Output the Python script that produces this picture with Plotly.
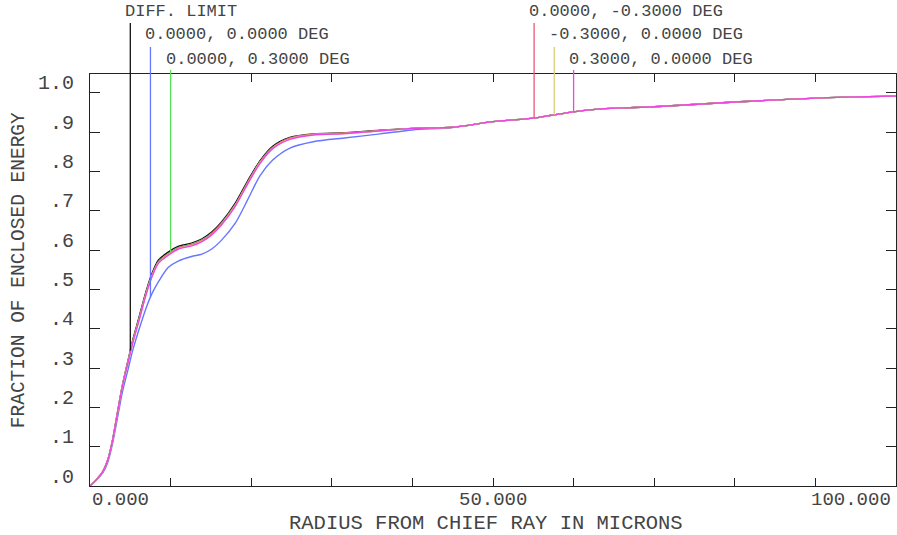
import numpy as np
import plotly.graph_objects as go

# ---- data ----
radius = [0, 0.75, 1.6, 2.2, 2.8, 3.4, 4.0, 4.7, 5.3, 6.0, 7.0, 7.7, 8.5, 9.7, 11.0,
          12.6, 13.9, 15.1, 16.3, 18.0, 19.6, 21.1, 22.7, 24.8, 27.7, 31.8, 36, 40, 45,
          50, 55, 57.5, 60, 63, 66, 70, 80, 90, 100]

diff_limit = [0, 0.015, 0.037, 0.066, 0.117, 0.186, 0.254, 0.318, 0.371, 0.423, 0.498,
              0.541, 0.575, 0.595, 0.610, 0.618, 0.629, 0.646, 0.671, 0.719, 0.778, 0.828,
              0.865, 0.887, 0.896, 0.899, 0.905, 0.910, 0.913, 0.927, 0.936, 0.944, 0.952,
              0.959, 0.962, 0.965, 0.977, 0.987, 0.992]
f_00_00 = [0, 0.014, 0.034, 0.060, 0.108, 0.172, 0.237, 0.295, 0.345, 0.393, 0.455,
           0.490, 0.520, 0.556, 0.573, 0.584, 0.590, 0.603, 0.625, 0.668, 0.730, 0.790,
           0.830, 0.860, 0.876, 0.886, 0.896, 0.906, 0.912, 0.927, 0.936, 0.944, 0.952,
           0.959, 0.962, 0.965, 0.977, 0.987, 0.992]
f_00_03 = [0, 0.015, 0.037, 0.066, 0.117, 0.185, 0.253, 0.315, 0.367, 0.419, 0.494,
           0.537, 0.571, 0.591, 0.607, 0.615, 0.626, 0.643, 0.668, 0.715, 0.774, 0.825,
           0.862, 0.885, 0.895, 0.898, 0.904, 0.910, 0.913, 0.927, 0.936, 0.944, 0.952,
           0.959, 0.962, 0.965, 0.977, 0.987, 0.992]
f_00_m03 = [0, 0.015, 0.037, 0.066, 0.117, 0.185, 0.253, 0.315, 0.366, 0.418, 0.493,
            0.536, 0.570, 0.590, 0.606, 0.614, 0.625, 0.642, 0.667, 0.714, 0.773, 0.824,
            0.862, 0.885, 0.895, 0.898, 0.904, 0.910, 0.913, 0.927, 0.936, 0.944, 0.952,
            0.959, 0.962, 0.965, 0.977, 0.987, 0.992]
f_m03_00 = [0, 0.015, 0.037, 0.066, 0.117, 0.185, 0.252, 0.314, 0.365, 0.416, 0.491,
            0.534, 0.568, 0.588, 0.604, 0.612, 0.623, 0.640, 0.665, 0.712, 0.771, 0.822,
            0.860, 0.883, 0.894, 0.897, 0.904, 0.910, 0.913, 0.927, 0.936, 0.944, 0.952,
            0.959, 0.962, 0.965, 0.977, 0.987, 0.992]
f_03_00 = [0, 0.015, 0.037, 0.066, 0.117, 0.185, 0.252, 0.313, 0.364, 0.415, 0.490,
           0.533, 0.567, 0.587, 0.603, 0.611, 0.622, 0.639, 0.664, 0.711, 0.770, 0.821,
           0.859, 0.882, 0.893, 0.897, 0.904, 0.910, 0.913, 0.927, 0.936, 0.944, 0.952,
           0.959, 0.962, 0.965, 0.977, 0.987, 0.992]

labels = ["DIFF. LIMIT", "0.0000, 0.0000 DEG", "0.0000, 0.3000 DEG",
          "0.0000, -0.3000 DEG", "-0.3000, 0.0000 DEG", "0.3000, 0.0000 DEG"]
series = [diff_limit, f_00_00, f_00_03, f_00_m03, f_m03_00, f_03_00]
colors = ["#111111", "#6677ff", "#55e055", "#ee5577", "#d8d27a", "#ee44e6"]
marker_r = [5.0, 7.5, 10.0, 55.1, 57.6, 60.0]     # radius where each label line drops
label_row = [0, 1, 2, 0, 1, 2]

y_ticks = [0.0, 0.1, 0.2, 0.3, 0.4, 0.5, 0.6, 0.7, 0.8, 0.9, 1.0]
y_tick_text = [".0", ".1", ".2", ".3", ".4", ".5", ".6", ".7", ".8", ".9", "1.0"]
x_ticks = [0, 50, 100]
x_tick_text = ["0.000", "50.000", "100.000"]

YMAX = 1.0483
FONT = "Liberation Mono"
TXT = "#444444"

fig = go.Figure()
for s, c, name in zip(series, colors, labels):
    fig.add_trace(go.Scatter(x=radius, y=s, mode="lines", name=name,
                             line=dict(color=c, width=1.4, shape="spline", smoothing=0.8),
                             showlegend=False, hoverinfo="skip"))

row_top = [1.1238, 1.0655, 1.0097]       # paper y for top of label lines
row_text = [1.1505, 1.0947, 1.0364]      # paper y for label text

shapes = []
annotations = []
for r, s, c, lab, row in zip(marker_r, series, colors, labels, label_row):
    yb = float(np.interp(r, radius, s)) / YMAX
    shapes.append(dict(type="line", xref="x", yref="paper", x0=r, x1=r,
                       y0=yb, y1=row_top[row], line=dict(color=c, width=1.3)))
    annotations.append(dict(xref="x", yref="paper", x=r, y=row_text[row], text=lab,
                            xanchor="left", yanchor="middle", xshift=-7, showarrow=False,
                            font=dict(family=FONT, size=17, color=TXT)))

for v, t in zip(y_ticks, y_tick_text):
    annotations.append(dict(xref="paper", yref="y", x=-0.0175, y=v, text=t,
                            xanchor="right", yanchor="middle", yshift=9, showarrow=False,
                            font=dict(family=FONT, size=20, color=TXT)))

for v, t, a in zip(x_ticks, x_tick_text, ["left", "center", "right"]):
    annotations.append(dict(xref="x", yref="paper", x=v, y=-0.034, text=t,
                            xanchor=a, yanchor="middle", showarrow=False,
                            xshift=(0 if a == "left" else (-3 if a == "right" else 0)),
                            font=dict(family=FONT, size=19, color=TXT)))

annotations.append(dict(xref="paper", yref="paper", x=0.491, y=-0.09,
                        text="RADIUS FROM CHIEF RAY IN MICRONS", xanchor="center",
                        yanchor="middle", showarrow=False,
                        font=dict(family=FONT, size=20.5, color=TXT)))
annotations.append(dict(xref="paper", yref="paper", x=-0.088, y=0.524,
                        text="FRACTION OF ENCLOSED ENERGY", textangle=-90,
                        xanchor="center", yanchor="middle", showarrow=False,
                        font=dict(family=FONT, size=19.5, color=TXT)))

fig.update_layout(
    width=897, height=535,
    margin=dict(l=90, r=1, t=74, b=49),
    paper_bgcolor="white", plot_bgcolor="white",
    shapes=shapes, annotations=annotations,
    xaxis=dict(range=[0, 100], tickmode="linear", tick0=0, dtick=10,
               ticks="inside", ticklen=8, tickcolor="#222", tickwidth=1,
               showticklabels=False, showgrid=False, zeroline=False,
               showline=True, linecolor="#222", linewidth=1, mirror="ticks"),
    yaxis=dict(range=[0, YMAX], tickvals=y_ticks,
               ticks="inside", ticklen=10, tickcolor="#222", tickwidth=1,
               showticklabels=False, showgrid=False, zeroline=False,
               showline=True, linecolor="#222", linewidth=1, mirror="ticks"),
)

fig.write_html("out.html")
